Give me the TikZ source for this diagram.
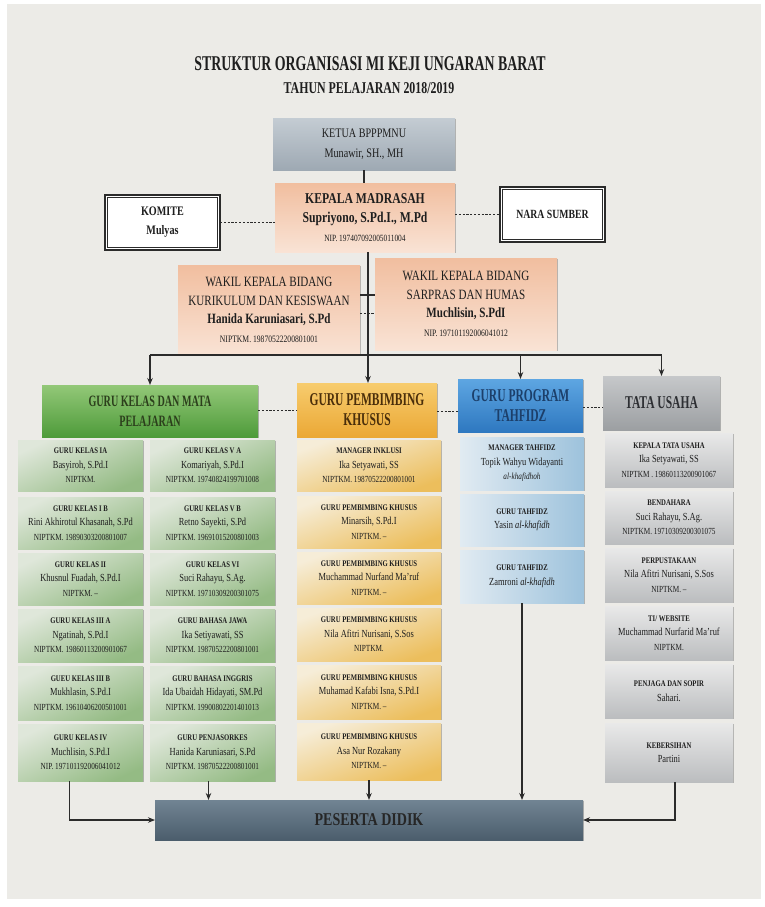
\documentclass[tikz,border=0pt]{standalone}
\usepackage{fontspec}
\setmainfont{Liberation Serif}[FakeStretch=0.78]
\newfontfamily\titlef{Liberation Serif}[FakeStretch=0.66]
\newfontfamily\subf{Liberation Serif}[FakeStretch=0.72]
\newfontfamily\headf{Liberation Serif}[FakeStretch=0.64]
\usetikzlibrary{arrows.meta,shadows}
\definecolor{paper}{HTML}{ECEBE7}
\definecolor{lc}{HTML}{2B2B2B}
\definecolor{tx}{HTML}{1E1E1E}
\definecolor{gHT}{HTML}{93C878}\definecolor{gHB}{HTML}{4E9B3A}
\definecolor{oHT}{HTML}{F7CC6E}\definecolor{oHB}{HTML}{EBA835}
\definecolor{bHT}{HTML}{5EA6E2}\definecolor{bHB}{HTML}{2E78C0}
\definecolor{yHT}{HTML}{C6C8CA}\definecolor{yHB}{HTML}{9C9FA2}
\definecolor{gcT}{HTML}{DFE7DA}\definecolor{gcB}{HTML}{94BB84}
\definecolor{ocT}{HTML}{F6EDD8}\definecolor{ocB}{HTML}{ECBE5C}
\definecolor{bcT}{HTML}{E1EBF2}\definecolor{bcB}{HTML}{9DC2DC}
\definecolor{ycT}{HTML}{E9E9E9}\definecolor{ycB}{HTML}{BBBDBF}
\definecolor{kT}{HTML}{C4CCD3}\definecolor{kB}{HTML}{9EA9B3}
\definecolor{sT}{HTML}{F1BE9F}\definecolor{sB}{HTML}{F9E3D5}
\definecolor{pdT}{HTML}{718493}\definecolor{pdB}{HTML}{4B5D6C}
\definecolor{gTx}{HTML}{2C3F1C}\definecolor{oTx}{HTML}{4A2E0A}
\definecolor{bTx}{HTML}{1C3F6A}\definecolor{yTx}{HTML}{2D2F33}
\newcommand{\hd}[1]{{\bfseries\fontsize{8.6}{14.5}\selectfont #1}}
\newcommand{\nm}[1]{{\fontsize{10.8}{14.5}\selectfont #1}}
\newcommand{\np}[1]{{\fontsize{9.3}{14.5}\selectfont #1}}
\newcommand{\ob}[7]{%
  \node[#6, minimum width={(#4-#2)*1pt}, minimum height={(#5-#3)*1pt}] (#1) at ({(#2+#4)/2},{(#3+#5)/2}) {#7};}
\tikzset{
  x=1pt, y=-1pt,
  conn/.style={draw=lc, line width=1.5pt},
  arr/.style={conn, -{Stealth[length=7pt,width=5.5pt]}},
  dsh/.style={draw=lc, line width=0.8pt, dash pattern=on 2.2pt off 1.6pt},
  bx/.style={inner sep=1pt, outer sep=0pt, align=center, text=tx,
     drop shadow={shadow xshift=0.6pt, shadow yshift=-1.4pt, opacity=0.55}},
  cellg/.style={bx, top color=gcT, bottom color=gcB, shading angle=25, font=\fontsize{9}{14.5}\selectfont},
  cello/.style={bx, top color=ocT, bottom color=ocB, shading angle=20, font=\fontsize{9}{14.5}\selectfont},
  cellb/.style={bx, left color=bcT, right color=bcB, font=\fontsize{9}{14.5}\selectfont},
  celly/.style={bx, top color=ycT, bottom color=ycB, font=\fontsize{9}{14.5}\selectfont},
  headbox/.style={bx, font=\headf\bfseries\fontsize{18}{20}\selectfont},
  salmon/.style={bx, top color=sT, bottom color=sB},
  plainbox/.style={inner sep=1pt, outer sep=0pt, align=center, text=tx, fill=white,
     draw=lc, line width=1.3pt},
  innerframe/.style={draw=lc, line width=0.6pt}
}
\begin{document}
\begin{tikzpicture}
\useasboundingbox (0,0) rectangle (765,907);
\fill[white] (0,0) rectangle (765,907);
\fill[paper] (7,4) rectangle (761,899);

% title
\node[text=tx, inner sep=0, font=\titlef\bfseries\fontsize{21}{23}\selectfont] (title) at (370,64) {STRUKTUR ORGANISASI MI KEJI UNGARAN BARAT};
\node[text=tx, inner sep=0, font=\subf\bfseries\fontsize{16.5}{18}\selectfont] (subtitle) at (369,88) {TAHUN PELAJARAN 2018/2019};

% top
\ob{ketua}{273}{118}{455}{170}{bx, top color=kT, bottom color=kB, font=\fontsize{13}{20}\selectfont}{KETUA BPPPMNU\\Munawir, SH., MH}
\ob{kepala}{275}{183}{455}{252}{salmon, font=\fontsize{15}{19}\selectfont}{\textbf{KEPALA MADRASAH}\\\textbf{Supriyono, S.Pd.I., M.Pd}\\{\fontsize{9.5}{12}\selectfont NIP. 197407092005011004}}
\ob{komite}{105}{195}{220}{250}{plainbox, font=\fontsize{13}{19}\selectfont}{\textbf{KOMITE}\\\textbf{Mulyas}}
\ob{nara}{500}{187}{605}{242}{plainbox, font=\bfseries\fontsize{12.5}{16}\selectfont}{NARA SUMBER}
\draw[innerframe] ([shift={(2.6,2.6)}]komite.north west) rectangle ([shift={(-2.6,-2.6)}]komite.south east);
\draw[innerframe] ([shift={(2.6,2.6)}]nara.north west) rectangle ([shift={(-2.6,-2.6)}]nara.south east);
\ob{wakilL}{178}{265}{360}{355}{salmon, font=\fontsize{14.2}{18.5}\selectfont}{WAKIL KEPALA BIDANG\\KURIKULUM DAN KESISWAAN\\\textbf{Hanida Karuniasari, S.Pd}\\{\fontsize{9.8}{12}\selectfont NIPTKM. 19870522200801001}}
\ob{wakilR}{375}{258}{557}{350}{salmon, font=\fontsize{14.2}{18.5}\selectfont}{WAKIL KEPALA BIDANG\\SARPRAS DAN HUMAS\\\textbf{Muchlisin, S.PdI}\\{\fontsize{9.8}{12}\selectfont NIP. 197101192006041012}}

% headers
\ob{gk}{42}{385}{258}{437}{headbox, top color=gHT, bottom color=gHB, text=gTx, font=\headf\bfseries\fontsize{15.8}{20}\selectfont}{GURU KELAS DAN MATA\\PELAJARAN}
\ob{gpk}{297}{383}{437}{437}{headbox, top color=oHT, bottom color=oHB, text=oTx}{GURU PEMBIMBING\\KHUSUS}
\ob{gpt}{458}{379}{583}{432}{headbox, top color=bHT, bottom color=bHB, text=bTx}{GURU PROGRAM\\TAHFIDZ}
\ob{tu}{603}{376}{720}{430}{headbox, top color=yHT, bottom color=yHB, text=yTx}{TATA USAHA}

% column 1
\ob{ca}{18}{440}{143}{491}{cellg}{\hd{GURU KELAS IA}\\\nm{Basyiroh, S.Pd.I}\\\np{NIPTKM.}}
\ob{cb}{18}{497}{143}{549}{cellg}{\hd{GURU KELAS I B}\\\nm{Rini Akhirotul Khasanah, S.Pd}\\\np{NIPTKM. 19890303200801007}}
\ob{cc}{18}{553}{143}{605}{cellg}{\hd{GURU KELAS II}\\\nm{Khusnul Fuadah, S.Pd.I}\\\np{NIPTKM. --}}
\ob{cd}{18}{609}{143}{662}{cellg}{\hd{GURU KELAS III A}\\\nm{Ngatinah, S.Pd.I}\\\np{NIPTKM. 19860113200901067}}
\ob{ce}{18}{666}{143}{720}{cellg}{\hd{GUEU KELAS III B}\\\nm{Mukhlasin, S.Pd.I}\\\np{NIPTKM. 19610406200501001}}
\ob{cf}{18}{724}{143}{781}{cellg}{\hd{GURU KELAS IV}\\\nm{Muchlisin, S.Pd.I}\\\np{NIP. 197101192006041012}}

% column 2
\ob{da}{150}{440}{275}{491}{cellg}{\hd{GURU KELAS V A}\\\nm{Komariyah, S.Pd.I}\\\np{NIPTKM. 19740824199701008}}
\ob{db}{150}{497}{275}{549}{cellg}{\hd{GURU KELAS V B}\\\nm{Retno Sayekti, S.Pd}\\\np{NIPTKM. 19691015200801003}}
\ob{dc}{150}{553}{275}{605}{cellg}{\hd{GURU KELAS VI}\\\nm{Suci Rahayu, S.Ag.}\\\np{NIPTKM. 19710309200301075}}
\ob{dd}{150}{609}{275}{662}{cellg}{\hd{GURU BAHASA JAWA}\\\nm{Ika Setiyawati, SS}\\\np{NIPTKM. 19870522200801001}}
\ob{de}{150}{666}{275}{720}{cellg}{\hd{GURU BAHASA INGGRIS}\\\nm{Ida Ubaidah Hidayati, SM.Pd}\\\np{NIPTKM. 19900802201401013}}
\ob{df}{150}{724}{275}{781}{cellg}{\hd{GURU PENJASORKES}\\\nm{Hanida Karuniasari, S.Pd}\\\np{NIPTKM. 19870522200801001}}

% middle column
\ob{ma}{297}{440}{441}{491}{cello}{\hd{MANAGER INKLUSI}\\\nm{Ika Setyawati, SS}\\\np{NIPTKM. 19870522200801001}}
\ob{mb}{297}{496}{441}{548}{cello}{\hd{GURU PEMBIMBING KHUSUS}\\\nm{Minarsih, S.Pd.I}\\\np{NIPTKM. --}}
\ob{mc}{297}{552}{441}{604}{cello}{\hd{GURU PEMBIMBING KHUSUS}\\\nm{Muchammad Nurfand Ma'ruf}\\\np{NIPTKM. --}}
\ob{md}{297}{608}{441}{661}{cello}{\hd{GURU PEMBIMBING KHUSUS}\\\nm{Nila Afitri Nurisani, S.Sos}\\\np{NIPTKM.}}
\ob{me}{297}{665}{441}{719}{cello}{\hd{GURU PEMBIMBING KHUSUS}\\\nm{Muhamad Kafabi Isna, S.Pd.I}\\\np{NIPTKM. --}}
\ob{mf}{297}{723}{441}{780}{cello}{\hd{GURU PEMBIMBING KHUSUS}\\\nm{Asa Nur Rozakany}\\\np{NIPTKM. --}}

% tahfidz column
\ob{ta}{460}{437}{584}{490}{cellb}{\hd{MANAGER TAHFIDZ}\\\nm{Topik Wahyu Widayanti}\\\np{\itshape al-khafidhoh}}
\ob{tb}{460}{494}{584}{546}{cellb}{\hd{GURU TAHFIDZ}\\\nm{Yasin \textit{al-khafidh}}}
\ob{tc}{460}{550}{584}{603}{cellb}{\hd{GURU TAHFIDZ}\\\nm{Zamroni \textit{al-khafidh}}}

% tata usaha column
\ob{ua}{605}{433}{733}{487}{celly}{\hd{KEPALA TATA USAHA}\\\nm{Ika Setyawati, SS}\\\np{NIPTKM . 19860113200901067}}
\ob{ub}{605}{491}{733}{544}{celly}{\hd{BENDAHARA}\\\nm{Suci Rahayu, S.Ag.}\\\np{NIPTKM. 19710309200301075}}
\ob{uc}{605}{548}{733}{602}{celly}{\hd{PERPUSTAKAAN}\\\nm{Nila Afitri Nurisani, S.Sos}\\\np{NIPTKM. --}}
\ob{ud}{605}{606}{733}{660}{celly}{\hd{TI/ WEBSITE}\\\nm{Muchammad Nurfarid Ma'ruf}\\\np{NIPTKM.}}
\ob{ue}{605}{664}{733}{718}{celly}{\hd{PENJAGA DAN SOPIR}\\\nm{Sahari.}}
\ob{uf}{605}{723}{733}{782}{celly}{\hd{KEBERSIHAN}\\\nm{Partini}}

% peserta didik
\ob{pd}{155}{800}{583}{840}{bx, top color=pdT, bottom color=pdB, text=black!85, font=\bfseries\fontsize{18}{20}\selectfont}{PESERTA DIDIK}

% connectors
\coordinate (bar) at (368,355);
\draw[conn] (ketua.south) -- (ketua.south |- kepala.north);
\draw[arr] (kepala.south -| bar) -- (gpk.north -| bar);
\draw[conn] (gk.north |- bar) -- (tu.north |- bar);
\draw[arr] (gk.north |- bar) -- (gk.north);
\draw[arr] (gpt.north |- bar) -- (gpt.north);
\draw[arr] (tu.north |- bar) -- (tu.north);
\draw[dsh] (komite.east) -- (komite.east -| kepala.west);
\draw[dsh] (nara.west -| kepala.east) -- (nara.west);
\draw[conn] ([yshift=15pt]wakilL.east) -- ([yshift=15pt]wakilL.east -| wakilR.west);
\draw[dsh] ([yshift=-3pt]wakilL.east) -- ([yshift=-3pt]wakilL.east -| wakilR.west);
\draw[dsh] ([yshift=-25pt]gk.east |- gk.north) -- ([yshift=-25pt]gk.east |- gk.north -| gpk.west);
\draw[dsh] ([yshift=-28pt]gpk.east |- gpk.north) -- ([yshift=-28pt]gpk.east |- gpk.north -| gpt.west);
\draw[dsh] ([yshift=-31pt]gpt.east |- tu.north) -- ([yshift=-31pt]gpt.east |- tu.north -| tu.west);
\draw[arr] ([xshift=-11pt]cf.south) |- (pd.west);
\draw[arr] ([xshift=-4pt]df.south) -- ([xshift=-4pt]df.south |- pd.north);
\draw[arr] (mf.south) -- (mf.south |- pd.north);
\draw[arr] (tc.south) -- (tc.south |- pd.north);
\draw[arr] ([xshift=6pt]uf.south) |- (pd.east);
\end{tikzpicture}
\end{document}
